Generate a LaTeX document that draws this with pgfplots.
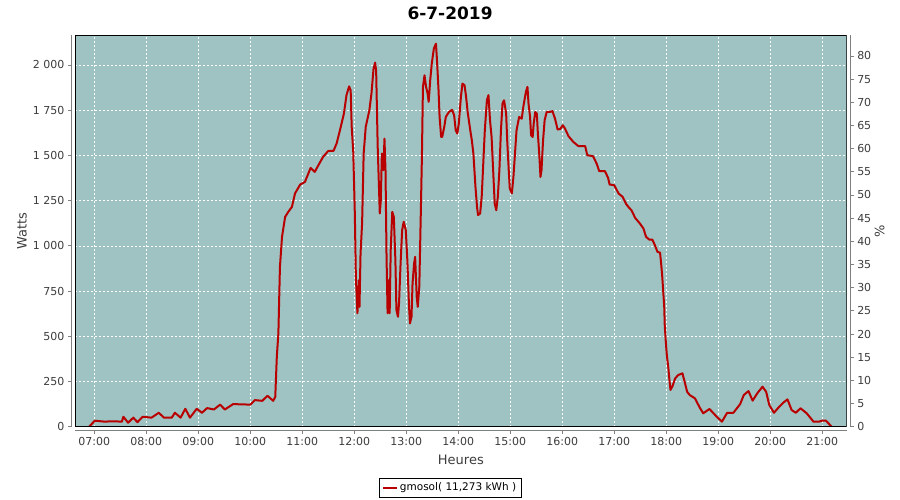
\documentclass[border=0pt]{standalone}
\usepackage{fontspec}
\setmainfont{DejaVu Sans}
\usepackage{pgfplots}
\pgfplotsset{compat=1.18}
\definecolor{plotbg}{RGB}{158,195,194}
\definecolor{linered}{RGB}{185,0,0}
\definecolor{ticktext}{RGB}{60,60,60}
\begin{document}
\begin{tikzpicture}
\path[use as bounding box] (0,0) rectangle (900pt,500pt);
\begin{axis}[
  at={(75pt,73.3pt)}, anchor=south west,
  scale only axis, width=771.7pt, height=391.4pt,
  xmin=6.629, xmax=21.469, ymin=0, ymax=2164.1,
  axis x line=bottom, axis y line=left,
  axis x line shift=4pt, axis y line shift=4pt,
  axis line style={-, draw=gray, line width=0.8pt},
  axis background/.style={fill=plotbg},
  tick align=outside, major tick length=3pt,
  tick style={gray, line width=0.8pt},
  xtick={7,8,...,21},
  xticklabels={07:00,08:00,09:00,10:00,11:00,12:00,13:00,14:00,15:00,16:00,17:00,18:00,19:00,20:00,21:00},
  ytick={0,250,...,2000},
  yticklabels={0,250,500,750,1 000,1 250,1 500,1 750,2 000},
  ticklabel style={font=\fontsize{11}{13}\selectfont, text=ticktext},
  grid=major, grid style={white, dash pattern=on 2pt off 2pt, line width=0.6pt},
  xlabel={Heures}, ylabel={Watts},
  label style={font=\fontsize{13}{15}\selectfont, text=ticktext},
  xlabel style={at={([yshift=-33pt]rel axis cs:0.5,0)}, anchor=center},
  ylabel style={at={([xshift=-53pt]rel axis cs:0,0.5)}, anchor=center},
  title={6-7-2019},
  title style={font=\fontsize{17}{20}\selectfont\bfseries, at={([yshift=16pt]rel axis cs:0.486,1)}, anchor=center},
  legend style={at={([yshift=-61pt]rel axis cs:0.486,0)}, anchor=center, draw=black, fill=white,
    font=\fontsize{10.5}{12}\selectfont, inner xsep=3pt, inner ysep=3pt},
  legend image code/.code={\draw[linered, line width=2pt] (0pt,0pt) -- (14pt,0pt);},
]
\addplot[linered, line width=2pt, line join=round] coordinates {
(6.90,0) (7.01,33) (7.20,28) (7.35,30) (7.53,28) (7.56,55) (7.65,22) (7.75,50) (7.83,25) (7.93,55)
(8.10,50) (8.24,77) (8.34,50) (8.49,50) (8.55,77) (8.66,50) (8.75,99) (8.84,50) (8.97,99)
(9.07,77) (9.17,103) (9.30,95) (9.42,122) (9.51,95) (9.67,125) (10.00,122) (10.09,147) (10.23,143)
(10.33,171) (10.44,143) (10.48,165) (10.51,387) (10.54,516) (10.57,884) (10.61,1050) (10.67,1160)
(10.73,1188) (10.80,1215) (10.86,1290) (10.96,1339) (11.05,1353) (11.16,1431) (11.24,1409)
(11.31,1446) (11.40,1492) (11.50,1525) (11.60,1525) (11.66,1566) (11.74,1658) (11.80,1731)
(11.85,1833) (11.90,1882) (11.93,1860) (11.95,1658) (11.98,1519) (12.01,1179) (12.03,829)
(12.06,627) (12.09,810) (12.10,663) (12.12,958) (12.15,1124) (12.18,1510) (12.22,1658)
(12.29,1750) (12.33,1842) (12.37,1980) (12.40,2013) (12.42,1970) (12.45,1547) (12.47,1363)
(12.49,1179) (12.51,1252) (12.53,1510) (12.56,1418) (12.58,1593) (12.60,1418) (12.62,939)
(12.64,627) (12.66,810) (12.68,627) (12.70,976) (12.73,1188) (12.76,1160) (12.79,921)
(12.81,645) (12.84,608) (12.86,682) (12.89,903) (12.92,1087) (12.95,1133) (12.99,1087)
(13.02,921) (13.05,682) (13.07,571) (13.10,608) (13.12,792) (13.15,903) (13.17,939)
(13.20,718) (13.22,663) (13.25,774) (13.28,1197) (13.30,1492) (13.32,1879) (13.35,1943)
(13.38,1879) (13.41,1842) (13.43,1796) (13.46,1916) (13.49,2008) (13.53,2091) (13.57,2118)
(13.59,2026) (13.62,1860) (13.64,1713) (13.67,1602) (13.69,1602) (13.73,1658) (13.76,1713)
(13.82,1740) (13.88,1752) (13.92,1722) (13.95,1639) (13.98,1621) (14.01,1676) (14.05,1823)
(14.08,1897) (14.12,1888) (14.15,1823) (14.18,1740) (14.23,1639) (14.26,1584) (14.29,1510)
(14.31,1418) (14.33,1326) (14.36,1215) (14.38,1170) (14.42,1179) (14.45,1271) (14.48,1455)
(14.51,1639) (14.55,1805) (14.58,1833) (14.61,1694) (14.64,1602) (14.67,1418) (14.70,1234)
(14.73,1197) (14.76,1271) (14.79,1418) (14.82,1639) (14.85,1787) (14.88,1805) (14.92,1731)
(14.94,1584) (14.97,1418) (14.99,1317) (15.03,1290) (15.06,1381) (15.09,1510) (15.12,1639)
(15.17,1713) (15.22,1703) (15.25,1768) (15.30,1851) (15.33,1879) (15.35,1787) (15.38,1713)
(15.40,1611) (15.43,1602) (15.45,1676) (15.48,1740) (15.51,1731) (15.53,1621) (15.56,1492)
(15.58,1381) (15.60,1418) (15.63,1584) (15.66,1694) (15.70,1740) (15.76,1740) (15.81,1745)
(15.86,1703) (15.91,1643) (15.96,1646) (16.01,1667) (16.05,1649) (16.12,1606) (16.21,1575)
(16.31,1551) (16.44,1551) (16.48,1501) (16.59,1496) (16.66,1455) (16.71,1413) (16.82,1413)
(16.88,1376) (16.91,1339) (17.00,1335) (17.08,1290) (17.16,1271) (17.23,1230) (17.28,1212)
(17.33,1197) (17.40,1155) (17.49,1124) (17.56,1096) (17.61,1050) (17.67,1035) (17.73,1035)
(17.78,1004) (17.83,967) (17.88,962) (17.90,903) (17.92,838) (17.96,663) (17.97,562)
(17.99,470) (18.01,396) (18.04,323) (18.06,258) (18.08,203) (18.12,225) (18.17,267)
(18.23,286) (18.31,295) (18.36,240) (18.40,193) (18.45,175) (18.55,157) (18.60,129)
(18.65,102) (18.71,74) (18.83,98) (18.97,55) (19.07,28) (19.17,77) (19.29,77) (19.42,125)
(19.49,175) (19.58,197) (19.66,144) (19.75,185) (19.85,221) (19.92,193) (19.98,120)
(20.07,77) (20.17,110) (20.25,133) (20.33,151) (20.41,92) (20.49,77) (20.58,102) (20.70,74)
(20.83,28) (20.94,28) (20.99,33) (21.07,33) (21.18,0)
};
\addlegendentry{gmosol( 11,273 kWh )}
\draw[black, line width=1.2pt] (rel axis cs:0,0) rectangle (rel axis cs:1,1);
\end{axis}
\begin{axis}[
  at={(75pt,73.3pt)}, anchor=south west,
  scale only axis, width=771.7pt, height=391.4pt,
  xmin=6.629, xmax=21.469, ymin=0, ymax=84.46,
  axis x line=none, axis y line=right,
  axis y line shift=4pt,
  axis line style={-, draw=gray, line width=0.8pt},
  tick align=outside, major tick length=3pt,
  tick style={gray, line width=0.8pt},
  ytick={0,5,...,80},
  /pgf/number format/assume math mode=true,
  ticklabel style={font=\fontsize{11}{13}\selectfont, text=ticktext},
  ylabel={\%},
  label style={font=\fontsize{13}{15}\selectfont, text=ticktext},
  ylabel style={at={([xshift=33pt]rel axis cs:1,0.5)}, anchor=center},
]
\end{axis}
\end{tikzpicture}
\end{document}
